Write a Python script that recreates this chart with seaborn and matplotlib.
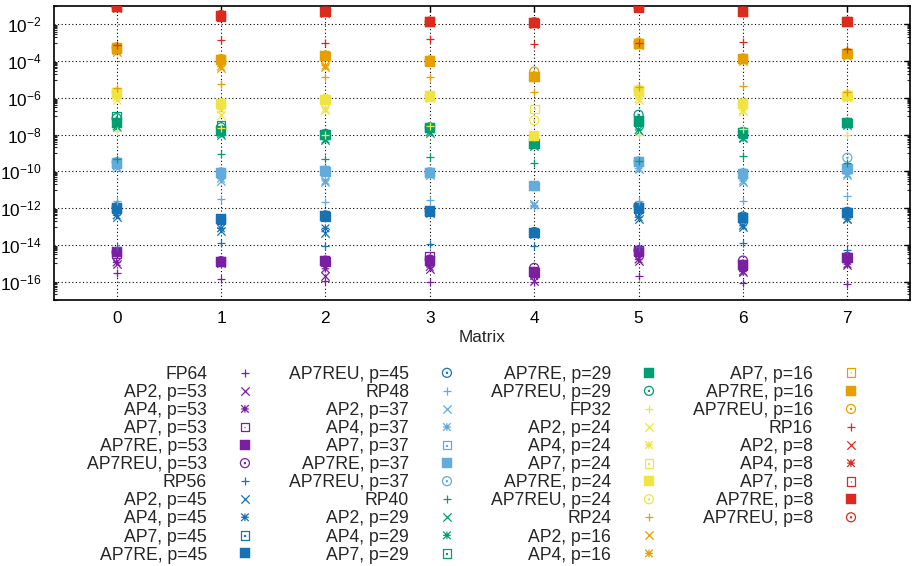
import numpy as np
import pandas as pd
import matplotlib
matplotlib.use("Agg")
import matplotlib.pyplot as plt
from matplotlib.path import Path
from matplotlib.lines import Line2D
from matplotlib.ticker import FixedLocator, LogFormatterSciNotation, NullFormatter
import seaborn as sns

# ---------------- data ----------------
matrices = [0, 1, 2, 3, 4, 5, 6, 7]

# p = 53 group (purple)
fp64      = [2.8e-16, 1.4e-16, 1.1e-16, 1.0e-16, 1.0e-16, 2.0e-16, 8.9e-17, 7.1e-17]
ap2_p53   = [8.9e-16, 1.0e-15, 2.0e-16, 5.0e-16, 1.1e-16, 1.4e-15, 3.2e-16, 7.9e-16]
ap4_p53   = [1.1e-15, 1.1e-15, 5.0e-16, 6.3e-16, 2.0e-16, 1.6e-15, 3.5e-16, 8.9e-16]
ap7_p53   = [3.5e-15, 1.2e-15, 1.3e-15, 2.5e-15, 3.2e-16, 4.5e-15, 7.9e-16, 2.0e-15]
ap7re_p53 = [3.9e-15, 1.2e-15, 1.3e-15, 1.4e-15, 3.2e-16, 4.9e-15, 7.8e-16, 2.0e-15]
ap7reu_p53 = [4.0e-15, 1.3e-15, 1.4e-15, 1.6e-15, 5.6e-16, 5.0e-15, 1.4e-15, 2.2e-15]

# p = 45 group (blue)
rp56      = [7.9e-15, 1.2e-14, 8.7e-15, 1.1e-14, 8.5e-15, 7.9e-15, 1.2e-14, 5.0e-15]
ap2_p45   = [3.2e-13, 5.8e-14, 4.7e-14, 5.6e-13, 4.0e-14, 2.5e-13, 1.0e-13, 2.5e-13]
ap4_p45   = [4.0e-13, 7.9e-14, 7.9e-14, 6.3e-13, 4.0e-14, 3.2e-13, 1.1e-13, 2.5e-13]
ap7_p45   = [1.0e-12, 2.5e-13, 3.5e-13, 6.8e-13, 4.4e-14, 1.0e-12, 3.0e-13, 5.6e-13]
ap7re_p45 = [1.07e-12, 2.5e-13, 3.7e-13, 6.8e-13, 4.4e-14, 1.07e-12, 3.0e-13, 5.6e-13]
ap7reu_p45 = [1.1e-12, 2.5e-13, 4.0e-13, 7.1e-13, 5.0e-14, 1.3e-12, 3.5e-13, 6.3e-13]

# p = 37 group (light blue)
rp48      = [2.5e-12, 3.2e-12, 2.1e-12, 2.8e-12, 1.3e-12, 2.5e-12, 2.4e-12, 4.6e-12]
ap2_p37   = [1.6e-10, 3.0e-11, 2.5e-11, 6.3e-11, 1.6e-12, 1.3e-10, 2.8e-11, 6.3e-11]
ap4_p37   = [1.8e-10, 4.0e-11, 3.0e-11, 7.1e-11, 1.4e-12, 1.4e-10, 3.0e-11, 7.1e-11]
ap7_p37   = [2.8e-10, 7.9e-11, 1.0e-10, 8.3e-11, 1.6e-11, 3.2e-10, 7.6e-11, 1.4e-10]
ap7re_p37 = [3.0e-10, 8.3e-11, 1.0e-10, 8.3e-11, 1.6e-11, 3.2e-10, 7.6e-11, 1.4e-10]
ap7reu_p37 = [3.2e-10, 8.9e-11, 1.1e-10, 8.9e-11, 1.6e-11, 3.5e-10, 7.9e-11, 5.5e-10]

# p = 29 group (green)
rp40      = [4.8e-10, 8.3e-10, 4.8e-10, 6.2e-10, 3.0e-10, 3.6e-10, 6.8e-10, 3.0e-10]
ap2_p29   = [2.5e-8, 1.0e-8, 5.0e-9, 1.3e-8, 2.5e-9, 1.6e-8, 6.3e-9, 3.2e-8]
ap4_p29   = [2.8e-8, 1.1e-8, 5.4e-9, 1.4e-8, 2.8e-9, 1.8e-8, 6.3e-9, 3.5e-8]
ap7_p29   = [9.3e-8, 3.2e-8, 1.0e-8, 2.3e-8, 3.2e-9, 5.2e-8, 1.2e-8, 4.3e-8]
ap7re_p29 = [4.3e-8, 1.5e-8, 1.0e-8, 2.3e-8, 3.2e-9, 5.2e-8, 1.2e-8, 4.3e-8]
ap7reu_p29 = [7.9e-8, 2.5e-8, 1.1e-8, 2.5e-8, 3.5e-9, 1.2e-7, 1.4e-8, 4.5e-8]

# p = 24 group (yellow)
fp32      = [1.5e-8, 2.3e-8, 1.0e-8, 2.8e-8, 7.9e-9, 1.0e-8, 2.0e-8, 1.0e-8]
ap2_p24   = [7.9e-7, 1.2e-7, 2.3e-7, 1.0e-6, 8.1e-9, 7.9e-7, 1.9e-7, 1.0e-6]
ap4_p24   = [1.0e-6, 2.3e-7, 2.5e-7, 1.1e-6, 8.9e-9, 8.9e-7, 2.0e-7, 1.1e-6]
ap7_p24   = [1.8e-6, 4.8e-7, 7.9e-7, 1.2e-6, 2.5e-7, 2.5e-6, 4.8e-7, 1.3e-6]
ap7re_p24 = [1.8e-6, 4.8e-7, 7.9e-7, 1.2e-6, 8.9e-9, 2.5e-6, 4.8e-7, 1.3e-6]
ap7reu_p24 = [2.0e-6, 5.0e-7, 8.9e-7, 1.3e-6, 6.0e-8, 2.8e-6, 5.0e-7, 1.4e-6]

# p = 16 group (orange)
rp24      = [3.4e-6, 5.8e-6, 1.4e-5, 1.4e-5, 2.2e-6, 4.0e-6, 4.2e-6, 2.2e-6]
ap2_p16   = [3.2e-4, 4.1e-5, 5.0e-5, 8.9e-5, 1.3e-5, 7.9e-4, 1.0e-4, 2.0e-4]
ap4_p16   = [3.5e-4, 5.0e-5, 5.6e-5, 1.0e-4, 1.3e-5, 8.3e-4, 1.1e-4, 2.2e-4]
ap7_p16   = [5.0e-4, 1.2e-4, 1.9e-4, 1.0e-4, 1.4e-5, 9.1e-4, 1.3e-4, 2.5e-4]
ap7re_p16 = [5.0e-4, 1.2e-4, 1.9e-4, 1.0e-4, 1.4e-5, 9.1e-4, 1.3e-4, 2.5e-4]
ap7reu_p16 = [5.6e-4, 1.3e-4, 2.0e-4, 1.1e-4, 2.7e-5, 1.0e-3, 1.4e-4, 2.8e-4]

# p = 8 group (red)
rp16      = [7.9e-4, 1.4e-3, 9.3e-4, 1.7e-3, 8.5e-4, 1.0e-3, 1.1e-3, 4.4e-4]
ap2_p8    = [7.9e-2, 2.5e-2, 4.0e-2, 1.3e-2, 1.1e-2, 7.9e-2, 4.5e-2, 1.3e-2]
ap4_p8    = [7.9e-2, 2.5e-2, 4.5e-2, 1.3e-2, 1.1e-2, 7.9e-2, 4.5e-2, 1.3e-2]
ap7_p8    = [8.9e-2, 2.8e-2, 4.8e-2, 1.4e-2, 1.2e-2, 8.3e-2, 4.8e-2, 1.4e-2]
ap7re_p8  = [8.9e-2, 2.8e-2, 4.8e-2, 1.4e-2, 1.2e-2, 8.3e-2, 4.8e-2, 1.4e-2]
ap7reu_p8 = [8.9e-2, 3.2e-2, 5.0e-2, 1.4e-2, 1.3e-2, 8.9e-2, 5.0e-2, 1.4e-2]

series = [
    ("FP64", fp64, "purple", "plus"), ("AP2, p=53", ap2_p53, "purple", "cross"),
    ("AP4, p=53", ap4_p53, "purple", "star"), ("AP7, p=53", ap7_p53, "purple", "osq"),
    ("AP7RE, p=53", ap7re_p53, "purple", "fsq"), ("AP7REU, p=53", ap7reu_p53, "purple", "ocirc"),
    ("RP56", rp56, "blue", "plus"), ("AP2, p=45", ap2_p45, "blue", "cross"),
    ("AP4, p=45", ap4_p45, "blue", "star"), ("AP7, p=45", ap7_p45, "blue", "osq"),
    ("AP7RE, p=45", ap7re_p45, "blue", "fsq"), ("AP7REU, p=45", ap7reu_p45, "blue", "ocirc"),
    ("RP48", rp48, "lightblue", "plus"), ("AP2, p=37", ap2_p37, "lightblue", "cross"),
    ("AP4, p=37", ap4_p37, "lightblue", "star"), ("AP7, p=37", ap7_p37, "lightblue", "osq"),
    ("AP7RE, p=37", ap7re_p37, "lightblue", "fsq"), ("AP7REU, p=37", ap7reu_p37, "lightblue", "ocirc"),
    ("RP40", rp40, "green", "plus"), ("AP2, p=29", ap2_p29, "green", "cross"),
    ("AP4, p=29", ap4_p29, "green", "star"), ("AP7, p=29", ap7_p29, "green", "osq"),
    ("AP7RE, p=29", ap7re_p29, "green", "fsq"), ("AP7REU, p=29", ap7reu_p29, "green", "ocirc"),
    ("FP32", fp32, "yellow", "plus"), ("AP2, p=24", ap2_p24, "yellow", "cross"),
    ("AP4, p=24", ap4_p24, "yellow", "star"), ("AP7, p=24", ap7_p24, "yellow", "osq"),
    ("AP7RE, p=24", ap7re_p24, "yellow", "fsq"), ("AP7REU, p=24", ap7reu_p24, "yellow", "ocirc"),
    ("RP24", rp24, "orange", "plus"), ("AP2, p=16", ap2_p16, "orange", "cross"),
    ("AP4, p=16", ap4_p16, "orange", "star"), ("AP7, p=16", ap7_p16, "orange", "osq"),
    ("AP7RE, p=16", ap7re_p16, "orange", "fsq"), ("AP7REU, p=16", ap7reu_p16, "orange", "ocirc"),
    ("RP16", rp16, "red", "plus"), ("AP2, p=8", ap2_p8, "red", "cross"),
    ("AP4, p=8", ap4_p8, "red", "star"), ("AP7, p=8", ap7_p8, "red", "osq"),
    ("AP7RE, p=8", ap7re_p8, "red", "fsq"), ("AP7REU, p=8", ap7reu_p8, "red", "ocirc"),
]

# ---------------- style ----------------
colors = {
    "purple": "#7b1fa2", "blue": "#1572b5", "lightblue": "#62abdd",
    "green": "#009e73", "yellow": "#f0e442", "orange": "#e69f00", "red": "#dc2a1e",
}

sns.set_style("white")
plt.rcParams["font.family"] = ["Liberation Sans", "DejaVu Sans"]
plt.rcParams["mathtext.default"] = "regular"
FS = 12.7

# custom gnuplot-like markers
M, L = Path.MOVETO, Path.LINETO
d = 0.11
star_path = Path([(-1, 0), (1, 0), (0, -1), (0, 1), (-1, -1), (1, 1), (-1, 1), (1, -1)],
                 [M, L, M, L, M, L, M, L])
dot = Path([(-d, -d), (d, -d), (d, d), (-d, d), (-d, -d)], [M, L, L, L, Path.CLOSEPOLY])
sq = Path([(-1, -1), (1, -1), (1, 1), (-1, 1), (-1, -1)], [M, L, L, L, Path.CLOSEPOLY])
osq_path = Path.make_compound_path(sq, dot)
ocirc_path = Path.make_compound_path(Path.unit_circle(), dot)

fig = plt.figure(figsize=(9.13, 5.66), dpi=100)
ax = fig.add_axes([54 / 913, 1 - 300 / 566, (910 - 54) / 913, (300 - 6) / 566])

for i, (name, vals, grp, kind) in enumerate(series):
    c = colors[grp]
    df = pd.DataFrame({"matrix": matrices, "err": vals})
    common = dict(data=df, x="matrix", y="err", ax=ax, label=name, zorder=3 + i * 0.01,
                  legend=False)
    if kind == "plus":
        sns.scatterplot(marker="+", s=40, color=c, linewidth=0.9, **common)
    elif kind == "cross":
        sns.scatterplot(marker="x", s=36, color=c, linewidth=0.9, **common)
    elif kind == "star":
        sns.scatterplot(marker=star_path, s=30, facecolor="none", edgecolor=c,
                        linewidth=0.9, **common)
    elif kind == "osq":
        sns.scatterplot(marker=osq_path, s=40, facecolor="none", edgecolor=c,
                        linewidth=0.9, **common)
    elif kind == "fsq":
        sns.scatterplot(marker="s", s=44, color=c, edgecolor=c, linewidth=0.3, **common)
    else:
        sns.scatterplot(marker=ocirc_path, s=42, facecolor="none", edgecolor=c,
                        linewidth=0.9, **common)

ax.set_yscale("log")
ax.set_ylim(1e-17, 1e-1)
ax.set_xlim(-0.6, 7.6)

major_y = [10.0 ** e for e in range(-16, -1, 2)]
minor_y = [k * 10.0 ** e for e in range(-17, 0, 2) for k in range(1, 10)]
ax.yaxis.set_major_locator(FixedLocator(major_y))
ax.yaxis.set_minor_locator(FixedLocator(minor_y))
ax.yaxis.set_major_formatter(LogFormatterSciNotation())
ax.yaxis.set_minor_formatter(NullFormatter())
ax.set_xticks(matrices)
ax.set_xticklabels([str(m) for m in matrices])

ax.tick_params(axis="both", which="major", direction="in", length=4.5, width=1.0,
               top=True, right=True, labelsize=12.4, colors="black")
ax.tick_params(axis="x", which="major", pad=8)
ax.tick_params(axis="y", which="major", pad=9)
ax.tick_params(axis="y", which="minor", direction="in", length=2.5, width=0.8,
               left=True, right=True)
ax.tick_params(axis="x", which="minor", bottom=False, top=False)

ax.grid(True, which="major", axis="both", color="black", linestyle=(0, (1, 2.2)),
        linewidth=0.8, zorder=1)
ax.set_axisbelow(True)
for sp in ax.spines.values():
    sp.set_linewidth(1.2)
    sp.set_color("black")

ax.set_xlabel("Matrix", fontsize=12.4, labelpad=3)
ax.set_ylabel("")

handles, labels = ax.get_legend_handles_labels()
for _ in range(2):
    handles.append(Line2D([], [], linestyle="none", marker=None))
    labels.append(" ")

fig.legend(handles, labels, ncol=4, markerfirst=False, frameon=False,
           loc="upper left", bbox_to_anchor=(87 / 913, 1 - 366 / 566),
           borderpad=0, borderaxespad=0, handlelength=2.0, handletextpad=1.15,
           columnspacing=1.5, labelspacing=0.06, fontsize=FS,
           scatterpoints=1, scatteryoffsets=[0.5])

fig.savefig("out.png", dpi=100)
